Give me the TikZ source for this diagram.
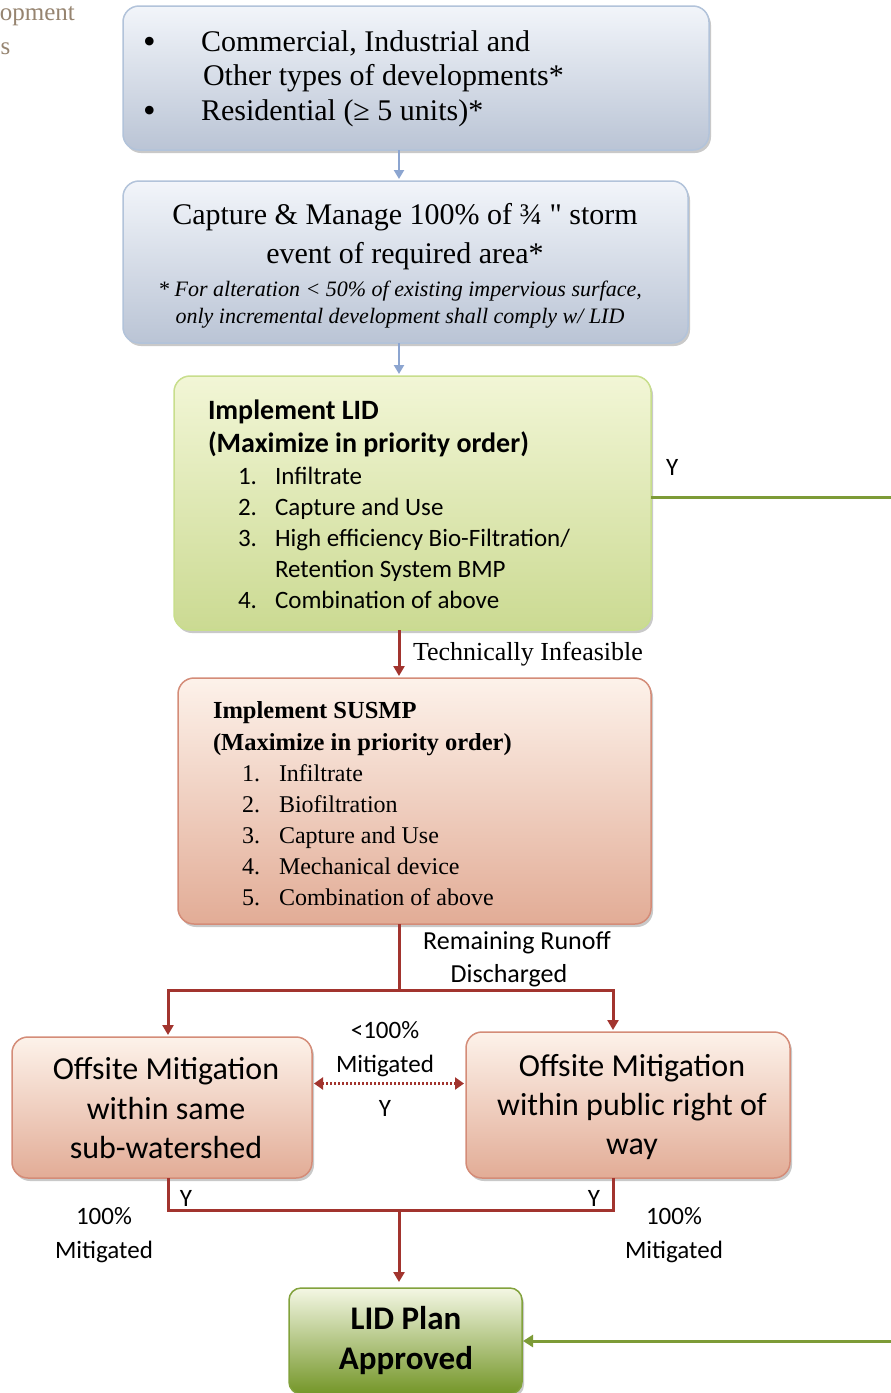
\documentclass[tikz,border=0pt]{standalone}
\usepackage{fontspec}
\setmainfont{Liberation Serif}
\newfontfamily\carl{Carlito}
\usetikzlibrary{arrows.meta,shadows}
\definecolor{bluetop}{RGB}{242,245,250}
\definecolor{bluebot}{RGB}{186,196,213}
\definecolor{blueedge}{RGB}{178,195,218}
\definecolor{bluearrow}{RGB}{140,165,208}
\definecolor{greentop}{RGB}{242,246,214}
\definecolor{greenbot}{RGB}{203,218,146}
\definecolor{greenedge}{RGB}{200,222,140}
\definecolor{salmtop}{RGB}{253,242,234}
\definecolor{salmbot}{RGB}{226,172,150}
\definecolor{salmedge}{RGB}{212,140,120}
\definecolor{redline}{RGB}{162,52,46}
\definecolor{greenline}{RGB}{125,155,55}
\definecolor{apptop}{RGB}{244,247,228}
\definecolor{appbot}{RGB}{116,150,40}
\definecolor{appedge}{RGB}{130,162,60}
\definecolor{graytxt}{RGB}{150,132,112}
\tikzset{
  boxbase/.style={rounded corners=16pt, inner sep=0pt, outer sep=0pt, line width=1.5pt,
     drop shadow={shadow xshift=2pt, shadow yshift=-3pt, opacity=0.35, fill=black!60}},
  bluebox/.style={boxbase, draw=blueedge, top color=bluetop, bottom color=bluebot},
  greenbox/.style={boxbase, draw=greenedge, top color=greentop, bottom color=greenbot},
  salmbox/.style={boxbase, draw=salmedge, top color=salmtop, bottom color=salmbot},
  appbox/.style={boxbase, rounded corners=12pt, draw=appedge, top color=apptop, bottom color=appbot},
  txt/.style={anchor=base west, inner sep=0pt, outer sep=0pt},
  ctxt/.style={anchor=base, inner sep=0pt, outer sep=0pt},
  bluearr/.style={draw=bluearrow, line width=2.5pt, -{Triangle[length=9pt,width=10pt]}, shorten >=2pt},
  redarr/.style={draw=redline, line width=3pt, -{Triangle[length=10pt,width=11pt]}, shorten >=2pt},
  redln/.style={draw=redline, line width=3pt},
  greenln/.style={draw=greenline, line width=3pt},
  greenarr/.style={draw=greenline, line width=3pt, -{Triangle[length=10pt,width=12pt]}, shorten >=1pt},
  dotarr/.style={draw=redline, line width=3.5pt, dash pattern=on 2pt off 2pt, {Triangle[length=9pt,width=12pt]}-{Triangle[length=9pt,width=12pt]}}
}
\begin{document}
\begin{tikzpicture}[x=1pt,y=-1pt]
\useasboundingbox (0,0) rectangle (891,1393);
\fill[white] (0,0) rectangle (891,1393);

% partial text top-left
\node[anchor=base east, inner sep=0pt, text=graytxt, font=\fontsize{25}{30}\selectfont] (pt1) at (75,20) {opment};
\node[anchor=base west, inner sep=0pt, text=graytxt, font=\fontsize{25}{30}\selectfont] (pt2) at (0.5,54) {s};

% helper x for main vertical axis
\coordinate (ax) at (399,0);

% Box 1
\node[bluebox, minimum width=586pt, minimum height=144pt] (b1) at (416,78) {};
\begin{scope}[font=\fontsize{30}{36}\selectfont]
\node[txt, font=\fontsize{36}{36}\selectfont] (b1bul1) at (143,53) {•};
\node[txt] (b1l1) at (201,51) {Commercial, Industrial and};
\node[txt] (b1l2) at (203,85) {Other types of developments*};
\node[txt, font=\fontsize{36}{36}\selectfont] (b1bul2) at (143,122) {•};
\node[txt] (b1l3) at (201,120) {Residential (≥ 5 units)*};
\end{scope}

% Box 2
\node[bluebox, minimum width=565pt, minimum height=162pt] (b2) at (405.5,262) {};
\node[ctxt, font=\fontsize{30}{36}\selectfont] (b2l1) at (405,224) {Capture \& Manage 100\% of ¾ \textquotedbl\ storm};
\node[ctxt, font=\fontsize{30}{36}\selectfont] (b2l2) at (405,263) {event of required area*};
\node[ctxt, font=\itshape\fontsize{22}{26}\selectfont] (b2l3) at (400,296) {* For alteration < 50\% of existing impervious surface,};
\node[ctxt, font=\itshape\fontsize{22}{26}\selectfont] (b2l4) at (400,323) {only incremental development shall comply w/ LID};

% Box 3 (LID)
\node[greenbox, minimum width=477pt, minimum height=254pt] (b3) at (412.5,503) {};
\begin{scope}[font=\carl\fontsize{25}{30}\selectfont]
\node[txt, font=\carl\bfseries\fontsize{28}{32}\selectfont] (b3h1) at (208,419) {Implement LID};
\node[txt, font=\carl\bfseries\fontsize{28}{32}\selectfont] (b3h2) at (208,452) {(Maximize in priority order)};
\node[txt] (b3n1) at (238,484) {1.}; \node[txt] (b3i1) at (275,484) {Infiltrate};
\node[txt] (b3n2) at (238,515) {2.}; \node[txt] (b3i2) at (275,515) {Capture and Use};
\node[txt] (b3n3) at (238,546) {3.}; \node[txt] (b3i3) at (275,546) {High efficiency Bio-Filtration/};
\node[txt] (b3i3b) at (275,577) {Retention System BMP};
\node[txt] (b3n4) at (238,608) {4.}; \node[txt] (b3i4) at (275,608) {Combination of above};
\node[txt] (ylid) at (666,475) {Y};
\end{scope}

% Box 4 (SUSMP)
\node[salmbox, minimum width=473pt, minimum height=246pt] (b4) at (414.5,801) {};
\begin{scope}[font=\fontsize{24}{28}\selectfont]
\node[txt, font=\bfseries\fontsize{24.5}{28}\selectfont] (b4h1) at (213,718) {Implement SUSMP};
\node[txt, font=\bfseries\fontsize{24.5}{28}\selectfont] (b4h2) at (213,750) {(Maximize in priority order)};
\node[txt] (b4n1) at (242,781) {1.}; \node[txt] (b4i1) at (279,781) {Infiltrate};
\node[txt] (b4n2) at (242,812) {2.}; \node[txt] (b4i2) at (279,812) {Biofiltration};
\node[txt] (b4n3) at (242,843) {3.}; \node[txt] (b4i3) at (279,843) {Capture and Use};
\node[txt] (b4n4) at (242,874) {4.}; \node[txt] (b4i4) at (279,874) {Mechanical device};
\node[txt] (b4n5) at (242,905) {5.}; \node[txt] (b4i5) at (279,905) {Combination of above};
\end{scope}
\node[txt, font=\fontsize{26}{30}\selectfont] (techinf) at (413,660) {Technically Infeasible};

% Offsite boxes
\node[salmbox, minimum width=300pt, minimum height=141pt] (b5) at (162,1107.5) {};
\node[salmbox, minimum width=324pt, minimum height=146pt] (b6) at (628,1105) {};
\begin{scope}[font=\carl\fontsize{32}{38}\selectfont]
\node[ctxt] (b5l1) at (166,1079) {Offsite Mitigation};
\node[ctxt] (b5l2) at (166,1119) {within same};
\node[ctxt] (b5l3) at (166,1158) {sub-watershed};
\node[ctxt] (b6l1) at (632,1076) {Offsite Mitigation};
\node[ctxt] (b6l2) at (632,1115) {within public right of};
\node[ctxt] (b6l3) at (632,1154) {way};
\end{scope}

% Labels around offsite
\begin{scope}[font=\carl\fontsize{25}{30}\selectfont]
\node[ctxt, font=\carl\fontsize{26}{30}\selectfont] (rr1) at (517,949) {Remaining Runoff};
\node[ctxt, font=\carl\fontsize{26}{30}\selectfont] (rr2) at (509,982) {Discharged};
\node[ctxt] (lt1) at (385,1038) {<100\%};
\node[ctxt] (lt2) at (385,1072) {Mitigated};
\node[ctxt] (lt3) at (385,1116) {Y};
\node[ctxt] (yl) at (186,1206) {Y};
\node[ctxt] (yr) at (594,1206) {Y};
\node[ctxt] (ml1) at (104,1224) {100\%};
\node[ctxt] (ml2) at (104,1258) {Mitigated};
\node[ctxt] (mr1) at (674,1224) {100\%};
\node[ctxt] (mr2) at (674,1258) {Mitigated};
\end{scope}

% Approved box
\node[appbox, minimum width=233pt, minimum height=106pt] (b7) at (405.5,1341) {};
\node[ctxt, font=\carl\bfseries\fontsize{33}{38}\selectfont] (b7l1) at (406,1329) {LID Plan};
\node[ctxt, font=\carl\bfseries\fontsize{33}{38}\selectfont] (b7l2) at (406,1369) {Approved};

% Connectors
\draw[bluearr] (b1.south -| ax) -- (b2.north -| ax);
\draw[bluearr] (b2.south -| ax) -- (b3.north -| ax);
\draw[redarr] (b3.south -| ax) -- (b4.north -| ax);

\coordinate (junc) at (399,990);
\coordinate (jl) at (168,990);
\coordinate (jr) at (613,990);
\draw[redln] (b4.south -| ax) -- (junc);
\draw[redln, line cap=rect] (jl) -- (jr);
\draw[redarr] (jl) -- (jl |- b5.north);
\draw[redarr] (jr) -- (jr |- b6.north);

\coordinate (dl) at ([yshift=24pt]b5.east);
\draw[dotarr] ([xshift=2pt]dl) -- ([xshift=-2pt]dl -| b6.west);

\coordinate (bl) at (168,1210);
\coordinate (br) at (613,1210);
\draw[redln, line join=miter] (bl |- b5.south) -- (bl) -- (br) -- (br |- b6.south);
\draw[redarr, shorten >=6pt] (ax |- bl) -- (ax |- b7.north);

\coordinate (gr) at (896,497);
\draw[greenln] ([yshift=6pt]b3.east) -- (gr);
\draw[greenarr] (gr) |- (b7.east);
\end{tikzpicture}
\end{document}
